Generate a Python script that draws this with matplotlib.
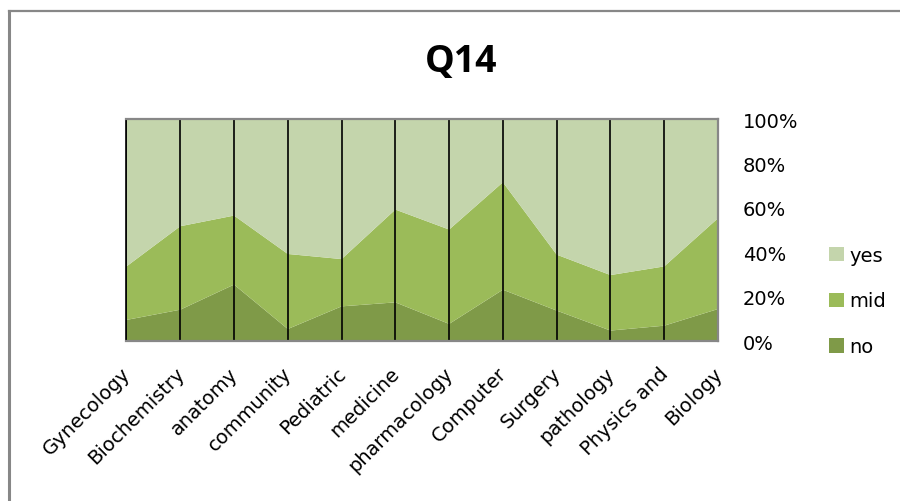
import matplotlib
matplotlib.use("Agg")
import matplotlib.pyplot as plt
from matplotlib.lines import Line2D
from matplotlib.patches import Patch
from matplotlib.transforms import ScaledTranslation
import numpy as np

categories = ["Gynecology", "Biochemistry", "anatomy", "community", "Pediatric",
              "medicine", "pharmacology", "Computer", "Surgery", "pathology",
              "Physics and", "Biology"]
no_vals = [9.5, 14.1, 25.4, 5.4, 15.6, 17.4, 7.7, 23.1, 13.7, 4.7, 6.9, 14.4]
mid_vals = [24.1, 37.6, 31.1, 33.8, 21.3, 41.8, 42.5, 48.4, 25.2, 25.0, 26.7, 40.9]
yes_vals = [66.4, 48.3, 43.5, 60.8, 63.1, 40.8, 49.8, 28.5, 61.1, 70.3, 66.4, 44.7]
series_names = ["no", "mid", "yes"]
colors = ["#7F9A48", "#9BBB59", "#C4D5AC"]
yticks = [0, 20, 40, 60, 80, 100]
ytick_labels = ["0%", "20%", "40%", "60%", "80%", "100%"]
title = "Q14"

W, H = 900, 502
fig = plt.figure(figsize=(W / 100, H / 100), dpi=100)
ax = fig.add_axes([126.5 / W, (H - 342) / H, (718 - 126.5) / W, (342 - 120) / H])

x = np.arange(len(categories))
data = np.array([no_vals, mid_vals, yes_vals], dtype=float)
pct = data / data.sum(axis=0) * 100
ax.stackplot(x, pct, colors=colors, labels=series_names, linewidth=0)

ax.set_xlim(0, len(categories) - 1)
ax.set_ylim(0, 100)

for xi in x[:-1]:
    ax.axvline(xi, color="black", lw=1.2, zorder=3)

for side in ["top", "bottom", "right"]:
    ax.spines[side].set_color("#878787")
    ax.spines[side].set_linewidth(1.6)
ax.spines["left"].set_color("black")
ax.spines["left"].set_linewidth(1.2)
for sp in ax.spines.values():
    sp.set_zorder(4)

tick_font = dict(family="DejaVu Sans", size=14)

ax.yaxis.tick_right()
ax.set_yticks(yticks)
ax.set_yticklabels(ytick_labels, **tick_font)
ax.tick_params(axis="y", length=0, pad=18)

ax.set_xticks(x)
ax.set_xticklabels(categories, rotation=45, ha="right", va="center",
                   rotation_mode="anchor", **tick_font)
ax.tick_params(axis="x", length=0, pad=21)
offset = ScaledTranslation(1 / 100, 0, fig.dpi_scale_trans)
for lab in ax.get_xticklabels():
    lab.set_transform(lab.get_transform() + offset)

fig.text(461 / W, 1 - 62 / H, title, ha="center", va="center",
         family="Open Sans", weight="bold", size=27)

handles = [Patch(facecolor=colors[i], edgecolor="none") for i in [2, 1, 0]]
labels = [series_names[i] for i in [2, 1, 0]]
fig.legend(handles, labels, loc="center left",
           bbox_to_anchor=(819 / W, 1 - 302 / H), frameon=False,
           prop=dict(family="DejaVu Sans", size=14),
           handlelength=0.8, handleheight=0.75, handletextpad=0.25,
           labelspacing=1.38, borderpad=0)

# outer chart border (top and left visible)
fig.add_artist(Line2D([9 / W, 1], [1 - 12 / H, 1 - 12 / H], color="#878787",
                      lw=1.6, transform=fig.transFigure))
fig.add_artist(Line2D([9 / W, 9 / W], [0, 1 - 12 / H], color="#878787",
                      lw=2.2, transform=fig.transFigure))

fig.savefig("out.png", dpi=100)
